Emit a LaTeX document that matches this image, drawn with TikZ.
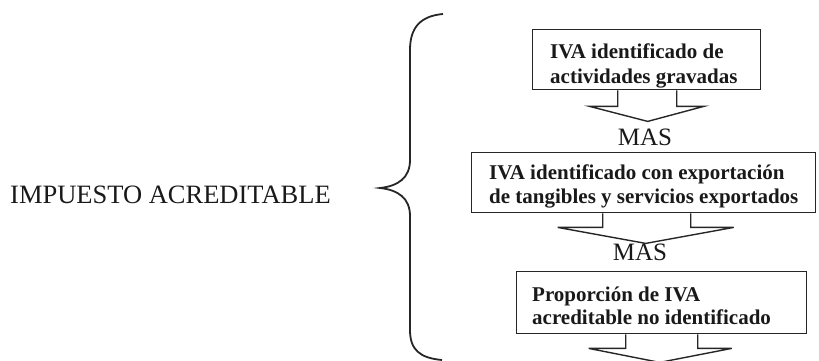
\documentclass[tikz,border=0pt]{standalone}
\usepackage{fontspec}
\setmainfont{Liberation Serif}
\usetikzlibrary{calc}
\begin{document}
\begin{tikzpicture}[x=1pt,y=-1pt,
  boxst/.style={draw=black!85,line width=1.4pt,rectangle,inner sep=0pt,anchor=north west},
  txt/.style={font=\fontsize{21}{24}\selectfont\bfseries,inner sep=0pt,anchor=base west,text=black!90},
  masst/.style={font=\fontsize{25}{28}\selectfont,inner sep=0pt,text=black!90},
  arr/.style={draw=black!85,line width=1.4pt,line join=miter},
  bracest/.style={draw=black!85,line width=1.8pt}]
\useasboundingbox (0,0) rectangle (819,361);
% main label
\node[font=\fontsize{26.5}{30}\selectfont,anchor=west,inner sep=0pt,text=black!90] (imp) at (10,195) {IMPUESTO ACREDITABLE};
% brace
\draw[bracest] (443,14) .. controls (420,16) and (410,28) .. (410,50)
  -- (410,160) .. controls (410,178) and (398,186) .. (380,188)
  .. controls (398,190) and (410,198) .. (410,216)
  -- (410,330) .. controls (410,350) and (420,358) .. (442,360);
% boxes
\node[boxst,minimum width=228pt,minimum height=60pt] (b1) at (532,29) {};
\node[boxst,minimum width=344pt,minimum height=60pt] (b2) at (471,152) {};
\node[boxst,minimum width=290pt,minimum height=62pt] (b3) at (516,271) {};
% texts
\node[txt] (t1a) at (550,59) {IVA identificado de};
\node[txt] (t1b) at (550,83) {actividades gravadas};
\node[txt] (t2a) at (489,179) {IVA identificado con exportación};
\node[txt] (t2b) at (489,203) {de tangibles y servicios exportados};
\node[txt] (t3a) at (532,301) {Proporción de IVA};
\node[txt] (t3b) at (532,324) {acreditable no identificado};
% MAS
\node[masst] (m1) at (645,137) {MAS};
\node[masst] (m2) at (640,252) {MAS};
% block arrows
\draw[arr] (b1.south) ++(-29,0) -- ++(0,16) -- ++(-28,0) -- ++(58,15) -- ++(56,-15) -- ++(-27,0) -- ++(0,-16);
\draw[arr] (b2.south) ++(-41,0) -- ++(0,14) -- ++(-45,0) -- ++(88,16) -- ++(88,-16) -- ++(-43,0) -- ++(0,-14);
\draw[arr] (b3.south) ++(-36,0) -- ++(0,14) -- ++(-37,0) -- ++(71,14) -- ++(72,-14) -- ++(-34,0) -- ++(0,-14);
\end{tikzpicture}
\end{document}
